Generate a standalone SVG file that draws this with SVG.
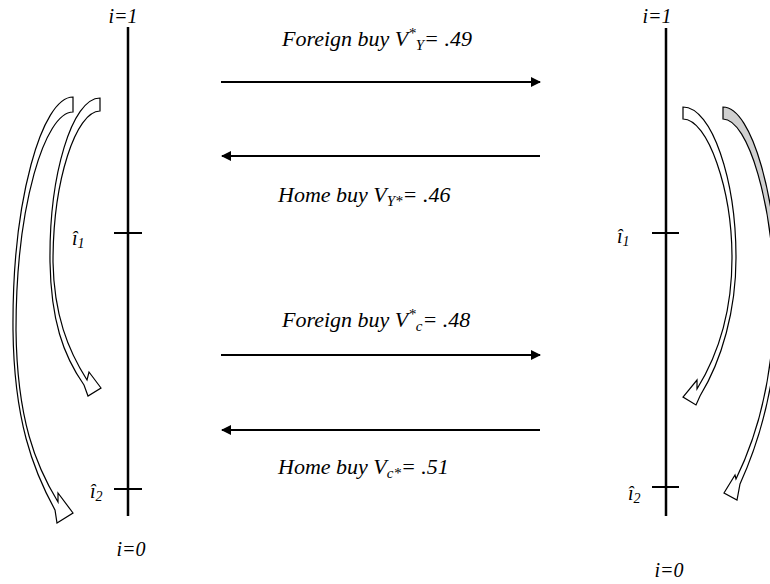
<svg xmlns="http://www.w3.org/2000/svg" width="770" height="584" viewBox="0 0 770 584">
<style>
.axis{stroke:#000;stroke-width:2.5;fill:none}
.tick{stroke:#000;stroke-width:2;fill:none}
.lbl{font-family:"Liberation Serif","Times New Roman",serif;font-style:italic;font-size:20px;fill:#000}
.big{font-size:22px}
.sm{font-size:14px}
.sm2{font-size:15px}
.harrow{stroke:#000;stroke-width:2;fill:none;marker-end:url(#ah)}
.carrow{stroke:#000;stroke-width:1.2;fill:#fff;stroke-linejoin:miter}
</style>
<defs>
<marker id="ah" viewBox="0 0 10 10" refX="9" refY="5" markerWidth="5" markerHeight="5" orient="auto" markerUnits="strokeWidth">
<path d="M0,0 L10,5 L0,10 Z" fill="#000"/>
</marker>
<linearGradient id="gD" gradientUnits="userSpaceOnUse" x1="0" y1="107" x2="0" y2="500">
<stop offset="0" stop-color="#d0d0d0"/>
<stop offset="0.5" stop-color="#d0d0d0"/>
<stop offset="0.5" stop-color="#fff"/>
<stop offset="1" stop-color="#fff"/>
</linearGradient>
</defs>

<g id="left-axis">
<line class="axis" x1="128" y1="27" x2="128" y2="516"/>
<line class="tick" x1="114" y1="233" x2="142" y2="233"/>
<line class="tick" x1="114" y1="489" x2="142" y2="489"/>
<text class="lbl" x="123" y="23" text-anchor="middle">i=1</text>
<text class="lbl" x="72" y="245">î<tspan class="sm" dy="3">1</tspan></text>
<text class="lbl" x="90" y="498">î<tspan class="sm" dy="3">2</tspan></text>
<text class="lbl" x="131" y="556" text-anchor="middle">i=0</text>
</g>

<g id="right-axis">
<line class="axis" x1="666" y1="28" x2="666" y2="516"/>
<line class="tick" x1="652" y1="233" x2="679" y2="233"/>
<line class="tick" x1="652" y1="487" x2="679" y2="487"/>
<text class="lbl" x="657" y="23" text-anchor="middle">i=1</text>
<text class="lbl" x="617" y="243">î<tspan class="sm" dy="3">1</tspan></text>
<text class="lbl" x="628" y="500">î<tspan class="sm" dy="3">2</tspan></text>
<text class="lbl" x="669" y="577" text-anchor="middle">i=0</text>
</g>

<g id="connectors">
<line class="harrow" x1="221" y1="82" x2="540" y2="82"/>
<line class="harrow" x1="540" y1="156" x2="222" y2="156"/>
<line class="harrow" x1="221" y1="355" x2="540" y2="355"/>
<line class="harrow" x1="540" y1="430" x2="222" y2="430"/>
</g>

<g id="label-foreign-y">
<text class="lbl big" x="282" y="46">Foreign buy V<tspan class="sm2" dy="-8">*</tspan><tspan class="sm2" dy="12">Y</tspan><tspan dy="-4">= .49</tspan></text>
</g>
<g id="label-home-y">
<text class="lbl big" x="278" y="202">Home buy V<tspan class="sm2" dy="4">Y*</tspan><tspan dy="-4">= .46</tspan></text>
</g>
<g id="label-foreign-c">
<text class="lbl big" x="282" y="327">Foreign buy V<tspan class="sm2" dy="-8">*</tspan><tspan class="sm2" dy="12">c</tspan><tspan dy="-4">= .48</tspan></text>
</g>
<g id="label-home-c">
<text class="lbl big" x="278" y="474">Home buy V<tspan class="sm2" dy="4">c*</tspan><tspan dy="-4">= .51</tspan></text>
</g>

<g id="curved-arrows">
<path id="left-outer-arrow" class="carrow" d="M73,97 C42,97 12,200 13,330 C14,420 33,470 55,510 L57,523 L73,513 L58,493 L58,502 C36,466 17,420 16,330 C16,205 45,112 73,112 Z"/>
<path id="left-inner-arrow" class="carrow" d="M100,98 C72,98 49,175 50,262 C51,320 63,355 84,385 L88,396 L101,388 L89,372 L87,380 C68,350 54,315 53,262 C53,180 76,111 100,111 Z"/>
<path id="right-inner-arrow" class="carrow" d="M683,107 C712,107 736,180 736,258 C736,310 722,360 700,396 L696,405 L683,397 L697,380 L697,389 C718,355 732,310 732,258 C732,190 708,119 683,119 Z"/>
<path id="right-outer-arrow" class="carrow" style="fill:url(#gD)" d="M723,107 C752,107 778,200 778,300 C778,380 760,440 740,484 L737,500 L724,493 L735,475 L736,479 C756,438 774,380 774,300 C774,205 748,119 723,119 Z"/>
</g>
</svg>
